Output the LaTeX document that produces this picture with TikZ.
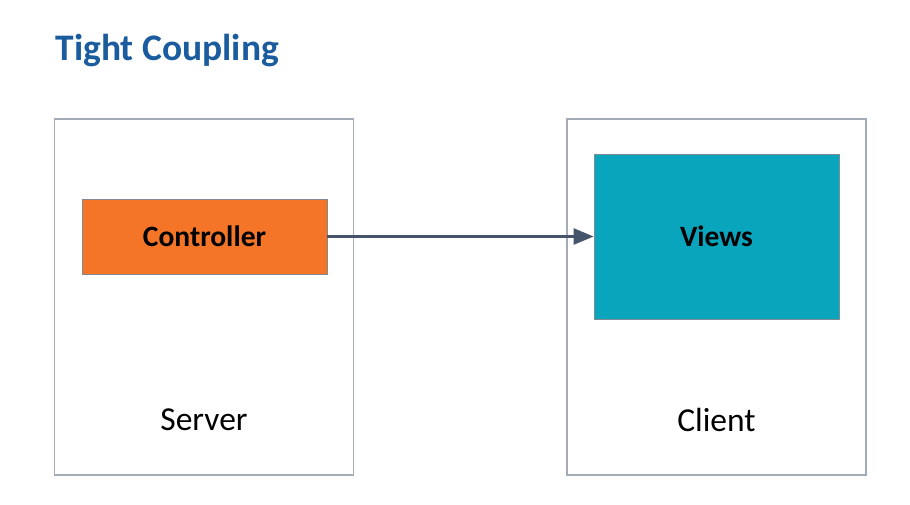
\documentclass[tikz,border=0pt]{standalone}
\usepackage{fontspec}
\setmainfont{Carlito}
\usetikzlibrary{arrows.meta}
\definecolor{color1}{HTML}{F47428}
\definecolor{color2}{HTML}{08A5BD}
\definecolor{frame}{HTML}{A3ABB7}
\definecolor{link}{HTML}{44546A}
\definecolor{heading}{HTML}{1B5C9E}
\tikzstyle{container} = [rectangle, minimum width=299pt, minimum height=356pt, draw=frame, line width=1.4pt, fill=white]
\tikzstyle{process} = [rectangle, minimum width=245pt, text centered, draw=frame!80!black, line width=0.8pt, font=\fontsize{29.5}{33}\selectfont\bfseries]
\tikzstyle{label} = [font=\fontsize{33.5}{38}\selectfont]
\tikzstyle{arrow} = [line width=2.4pt, draw=link, -{Triangle[length=20pt,width=16pt]}]

\begin{document}
\begin{tikzpicture}[x=1pt, y=-1pt]

		\useasboundingbox (0,0) rectangle (910,504);
		\node (title) [anchor=base west, text=heading, font=\fontsize{37.5}{42}\selectfont\bfseries] at (52,60) {Tight Coupling};

		\node (server) [container] at (204,297) {};
		\node (client) [container] at (716.5,297) {};
		\node (controller) [process, fill=color1, minimum height=75pt] at (204.5,236.5) {Controller};
		\node (views) [process, fill=color2, minimum height=165pt] at (716.5,236.5) {Views};
		\node (serverlabel) [label] at (204,420) {Server};
		\node (clientlabel) [label] at (716.5,420) {Client};

		\draw [arrow] (controller) -- (views);

\end{tikzpicture}
\end{document}
